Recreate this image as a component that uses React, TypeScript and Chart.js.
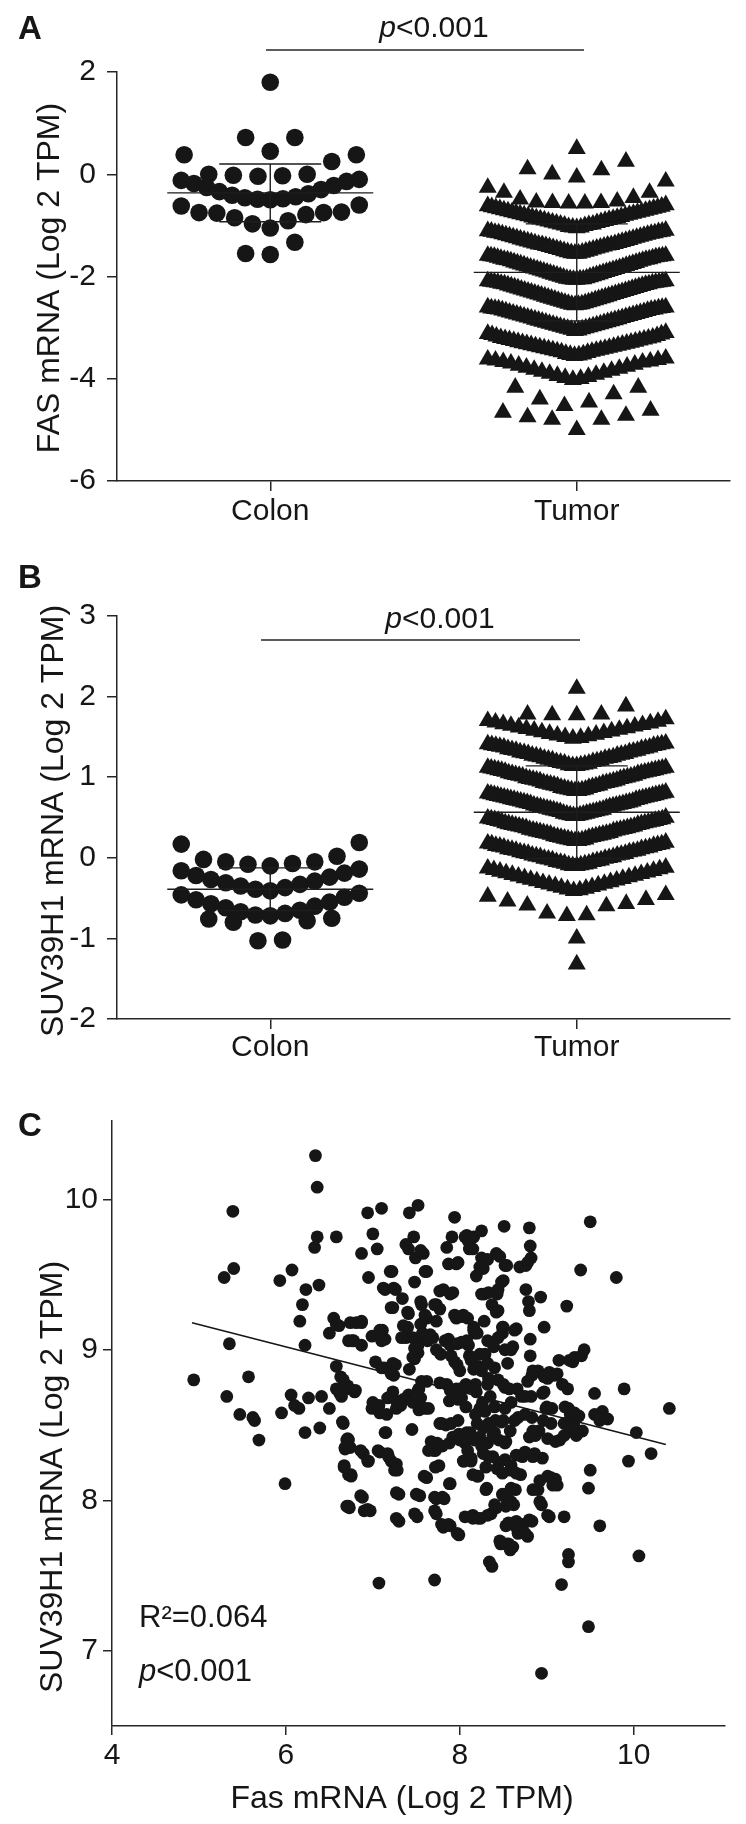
import React, { useEffect, useRef } from 'react';
import { Chart, registerables } from 'chart.js';

Chart.register(...registerables);

const FONT = '"Liberation Sans", Arial, Helvetica, sans-serif';
const INK = '#161616';
const AXIS = '#262626';

const groupNames = ['Colon', 'Tumor'];

// ---------- Panel A : FAS mRNA (Log 2 TPM) ----------
const fasColon = [
  1.8,
  0.45, 0.72, 0.72,
  -0.04, -0.03, -0.02, 0.0, 0.0, 0.25, 0.38, 0.38,
  -0.5, -0.49, -0.48, -0.46, -0.44, -0.41, -0.38, -0.34, -0.3, -0.26, -0.22, -0.18, -0.14, -0.12, -0.1,
  -1.05, -0.97, -0.91, -0.85, -0.79, -0.76, -0.75, -0.75, -0.74, -0.62, -0.6,
  -1.57, -1.55, -1.33,
];
const fasTumor = [
  0.5,
  -0.06, 0.0, 0.08, 0.1, 0.25,
  -0.14, -0.26, -0.36, -0.36, -0.46, -0.49, -0.53, -0.55, -0.56, -0.56, -0.57, -0.57,
  -1.05, -1.04, -1.04, -1.03, -1.01, -1.0, -0.99, -0.98, -0.98, -0.96, -0.95, -0.94, -0.93, -0.92, -0.91,
  -0.9, -0.89, -0.88, -0.87, -0.86, -0.85, -0.84, -0.83, -0.82, -0.81, -0.8, -0.79, -0.78, -0.77, -0.76,
  -0.75, -0.74, -0.73, -0.72, -0.71, -0.7, -0.69, -0.68, -0.67, -0.66, -0.65, -0.64, -0.63, -0.62, -0.6,
  -1.55, -1.55, -1.54, -1.53, -1.52, -1.51, -1.5, -1.49, -1.48, -1.47, -1.46, -1.45, -1.44, -1.43, -1.42,
  -1.41, -1.4, -1.39, -1.38, -1.38, -1.37, -1.36, -1.35, -1.34, -1.33, -1.32, -1.31, -1.3, -1.29, -1.28,
  -1.27, -1.26, -1.25, -1.24, -1.23, -1.22, -1.21, -1.2, -1.19, -1.18, -1.17, -1.16, -1.15, -1.15, -1.14,
  -1.13, -1.12, -1.12, -1.11, -1.1,
  -2.06, -2.06, -2.05, -2.05, -2.05, -2.04, -2.03, -2.02, -2.01, -2.0, -1.99, -1.98, -1.97, -1.96, -1.95,
  -1.94, -1.93, -1.92, -1.91, -1.9, -1.89, -1.88, -1.87, -1.86, -1.85, -1.84, -1.83, -1.82, -1.81, -1.8,
  -1.79, -1.78, -1.77, -1.76, -1.75, -1.74, -1.73, -1.72, -1.71, -1.7, -1.69, -1.68, -1.67, -1.67, -1.66,
  -1.65, -1.64, -1.63, -1.62, -1.61, -1.61, -1.6, -1.6, -1.59, -1.59,
  -2.56, -2.55, -2.55, -2.54, -2.53, -2.52, -2.51, -2.5, -2.49, -2.48, -2.47, -2.46, -2.45, -2.44, -2.43,
  -2.42, -2.41, -2.4, -2.39, -2.38, -2.37, -2.36, -2.35, -2.34, -2.33, -2.32, -2.31, -2.3, -2.29, -2.28,
  -2.27, -2.26, -2.25, -2.24, -2.23, -2.22, -2.21, -2.2, -2.19, -2.18, -2.17, -2.16, -2.15, -2.15, -2.14,
  -2.13, -2.12, -2.12, -2.11, -2.11, -2.1, -2.1, -2.09, -2.09,
  -3.06, -3.05, -3.04, -3.03, -3.02, -3.01, -3.0, -2.99, -2.98, -2.97, -2.96, -2.95, -2.94, -2.93, -2.92,
  -2.91, -2.9, -2.89, -2.88, -2.87, -2.86, -2.85, -2.84, -2.83, -2.82, -2.81, -2.8, -2.79, -2.78, -2.77,
  -2.76, -2.75, -2.74, -2.73, -2.72, -2.71, -2.7, -2.69, -2.68, -2.67, -2.66, -2.65, -2.64, -2.64, -2.63,
  -2.62, -2.62, -2.61, -2.6, -2.6,
  -3.55, -3.54, -3.53, -3.52, -3.51, -3.49, -3.48, -3.47, -3.46, -3.45, -3.44, -3.43, -3.42, -3.41, -3.4,
  -3.39, -3.38, -3.37, -3.36, -3.35, -3.34, -3.33, -3.32, -3.31, -3.3, -3.29, -3.28, -3.27, -3.26, -3.25,
  -3.24, -3.23, -3.22, -3.21, -3.2, -3.19, -3.17, -3.16, -3.14, -3.13, -3.12, -3.1,
  -4.02, -4.0, -3.98, -3.96, -3.94, -3.92, -3.9, -3.88, -3.86, -3.84, -3.82, -3.8, -3.78, -3.76, -3.74,
  -3.72, -3.7, -3.68, -3.67, -3.66, -3.64, -3.63, -3.62, -3.6,
  -4.17, -4.17, -4.3, -4.4, -4.46, -4.53,
  -4.62, -4.66, -4.72, -4.75, -4.8, -4.8, -5.0,
];
const fasMean = [-0.365, -1.92];
const fasSd = [0.565, 0.95];

// ---------- Panel B : SUV39H1 mRNA (Log 2 TPM) ----------
const suvColon = [
  -0.1, -0.08, -0.07, -0.05, -0.05, -0.02, 0.02, 0.17, 0.19,
  -0.41, -0.39, -0.37, -0.35, -0.33, -0.31, -0.29, -0.27, -0.24, -0.22, -0.19, -0.16, -0.14,
  -0.72, -0.71, -0.69, -0.67, -0.65, -0.62, -0.6, -0.57, -0.55, -0.52, -0.49, -0.46, -0.44,
  -1.03, -1.02, -0.8, -0.78, -0.76, -0.75,
];
const suvTumor = [
  2.1,
  1.77, 1.77, 1.78, 1.78, 1.88,
  1.48, 1.49, 1.5, 1.51, 1.52, 1.53, 1.54, 1.55, 1.56, 1.57, 1.58, 1.59, 1.6, 1.61, 1.62, 1.63, 1.64,
  1.65, 1.66, 1.67, 1.68, 1.69, 1.7, 1.72,
  1.14, 1.14, 1.15, 1.15, 1.16, 1.17, 1.17, 1.18, 1.19, 1.19, 1.2, 1.21, 1.21, 1.22, 1.23, 1.23, 1.24,
  1.25, 1.25, 1.26, 1.27, 1.27, 1.28, 1.29, 1.29, 1.3, 1.31, 1.31, 1.32, 1.33, 1.33, 1.34, 1.35, 1.35,
  1.36, 1.37, 1.37, 1.38, 1.39, 1.39, 1.4, 1.4, 1.41, 1.41, 1.42,
  0.83, 0.83, 0.84, 0.84, 0.85, 0.85, 0.86, 0.87, 0.87, 0.88, 0.89, 0.89, 0.9, 0.9, 0.91, 0.92, 0.92,
  0.93, 0.93, 0.94, 0.95, 0.95, 0.96, 0.96, 0.97, 0.98, 0.98, 0.99, 0.99, 1.0, 1.01, 1.01, 1.02, 1.02,
  1.03, 1.04, 1.04, 1.05, 1.05, 1.06, 1.07, 1.07, 1.08, 1.08, 1.09, 1.09, 1.1, 1.1, 1.11, 1.11, 1.12, 1.12,
  0.52, 0.52, 0.53, 0.53, 0.54, 0.54, 0.55, 0.55, 0.56, 0.57, 0.57, 0.58, 0.58, 0.59, 0.59, 0.6, 0.6,
  0.61, 0.62, 0.62, 0.63, 0.63, 0.64, 0.64, 0.65, 0.65, 0.66, 0.67, 0.67, 0.68, 0.68, 0.69, 0.69, 0.7,
  0.7, 0.71, 0.72, 0.72, 0.73, 0.73, 0.74, 0.74, 0.75, 0.75, 0.76, 0.76, 0.77, 0.77, 0.78, 0.78, 0.79,
  0.79, 0.8, 0.8, 0.81,
  0.21, 0.21, 0.22, 0.22, 0.23, 0.23, 0.24, 0.25, 0.25, 0.26, 0.26, 0.27, 0.27, 0.28, 0.29, 0.29, 0.3,
  0.3, 0.31, 0.31, 0.32, 0.33, 0.33, 0.34, 0.34, 0.35, 0.35, 0.36, 0.37, 0.37, 0.38, 0.38, 0.39, 0.39,
  0.4, 0.41, 0.41, 0.42, 0.42, 0.43, 0.43, 0.44, 0.45, 0.45, 0.46, 0.46, 0.47, 0.47, 0.48, 0.48, 0.49, 0.5,
  -0.1, -0.1, -0.09, -0.09, -0.08, -0.07, -0.07, -0.06, -0.05, -0.05, -0.04, -0.03, -0.03, -0.02, -0.01,
  -0.01, 0.0, 0.01, 0.01, 0.02, 0.03, 0.03, 0.04, 0.05, 0.05, 0.06, 0.07, 0.07, 0.08, 0.09, 0.09, 0.1,
  0.11, 0.11, 0.12, 0.13, 0.13, 0.14, 0.15, 0.15, 0.16, 0.17, 0.17, 0.18, 0.19,
  -0.41, -0.4, -0.39, -0.38, -0.37, -0.36, -0.35, -0.34, -0.33, -0.32, -0.31, -0.3, -0.29, -0.28, -0.27,
  -0.26, -0.25, -0.24, -0.23, -0.22, -0.21, -0.2, -0.19, -0.18, -0.17, -0.16, -0.15, -0.14, -0.13, -0.12,
  -0.46, -0.48, -0.52, -0.54, -0.57, -0.59, -0.6, -0.69, -0.71, -0.72,
  -1.0,
  -1.32,
];
const suvMean = [-0.39, 0.565];
const suvSd = [0.265, 0.575];

// ---------- Panel C : Fas vs SUV39H1 (x = Fas, y = SUV39H1) ----------
const fasSuvPairs = [
  [4.94, 8.8], [5.29, 9.48], [5.39, 9.92], [5.4, 9.54], [5.35, 9.04], [5.32, 8.69], [5.47, 8.57], [5.57, 8.82],
  [5.64, 8.53], [5.69, 8.4], [5.93, 9.46], [5.95, 8.58], [5.99, 8.11], [6.07, 9.53], [6.06, 8.7], [6.15, 8.61],
  [6.16, 9.19], [6.19, 9.3], [6.23, 9.4], [6.22, 9.03], [6.22, 8.45], [6.26, 8.68], [6.34, 10.29], [6.36, 10.08],
  [6.36, 9.75], [6.33, 9.68], [6.38, 9.43], [6.39, 8.48], [6.41, 8.69], [6.5, 8.61], [6.5, 9.11], [6.55, 9.21],
  [6.58, 9.75], [6.58, 8.89], [6.61, 9.16], [6.63, 8.82], [6.58, 8.74], [6.64, 8.69], [6.66, 8.51], [6.67, 8.23],
  [6.71, 8.76], [6.72, 8.4], [6.74, 8.35], [6.75, 8.17], [6.78, 9.06], [6.79, 8.72], [6.81, 9.18], [6.73, 7.95],
  [6.87, 9.64], [6.87, 9.18], [6.87, 9.03], [6.88, 8.02], [6.89, 8.31], [6.9, 7.93], [6.94, 9.91], [6.95, 9.48],
  [6.95, 8.26], [6.97, 7.93], [6.99, 9.09], [7.0, 9.77], [6.99, 8.61], [7.03, 8.92], [7.05, 9.67], [7.07, 8.63],
  [7.08, 8.58], [7.08, 8.32], [7.07, 7.45], [7.1, 9.94], [7.11, 9.13], [7.13, 8.88], [7.14, 9.4], [7.14, 9.07],
  [7.15, 8.45], [7.16, 8.57], [7.18, 8.29], [7.22, 9.52], [7.23, 9.28], [7.23, 8.72], [7.24, 8.83], [7.26, 9.4],
  [7.26, 8.9], [7.27, 8.61], [7.27, 8.24], [7.28, 8.2], [7.3, 8.04], [7.3, 7.86], [7.34, 9.34], [7.35, 8.67],
  [7.38, 9.08], [7.4, 9.15], [7.41, 8.7], [7.41, 9.24], [7.41, 9.67], [7.42, 9.91], [7.45, 8.47], [7.47, 9.75],
  [7.48, 9.45], [7.49, 9.61], [7.48, 8.94], [7.51, 7.89], [7.52, 9.96], [7.52, 9.03], [7.52, 8.98], [7.53, 8.74],
  [7.54, 8.03], [7.55, 9.08], [7.55, 8.68], [7.56, 9.3], [7.58, 9.64], [7.59, 8.16], [7.6, 8.61], [7.62, 9.52],
  [7.62, 9.21], [7.62, 8.79], [7.63, 9.06], [7.64, 8.61], [7.69, 9.08], [7.7, 8.33], [7.71, 7.47], [7.73, 7.91],
  [7.73, 9.3], [7.73, 8.01], [7.74, 8.38], [7.76, 8.23], [7.77, 9.27], [7.78, 8.97], [7.79, 8.51], [7.81, 9.4],
  [7.81, 7.82], [7.82, 8.01], [7.85, 9.68], [7.85, 8.77], [7.87, 9.57], [7.87, 9.07], [7.88, 8.38], [7.88, 8.11],
  [7.89, 7.83], [7.91, 9.75], [7.92, 9.38], [7.94, 9.88], [7.94, 8.92], [7.96, 8.74], [7.96, 9.21], [7.98, 9.58],
  [7.98, 8.53], [7.99, 8.44], [7.99, 7.77], [8.0, 8.86], [8.02, 8.68], [8.02, 9.05], [8.03, 9.22], [8.05, 8.26],
  [8.06, 8.38], [8.07, 8.77], [8.08, 9.76], [8.09, 9.21], [8.1, 9.72], [8.1, 9.03], [8.11, 8.96], [8.12, 8.45],
  [8.13, 8.26], [8.15, 9.67], [8.15, 7.88], [8.16, 9.75], [8.17, 9.11], [8.18, 8.77], [8.19, 9.49], [8.2, 8.16],
  [8.21, 8.89], [8.23, 8.42], [8.24, 7.88], [8.25, 9.79], [8.27, 9.54], [8.28, 9.37], [8.28, 9.19], [8.29, 8.97],
  [8.29, 8.59], [8.3, 8.07], [8.32, 9.6], [8.32, 8.77], [8.33, 8.51], [8.33, 8.29], [8.35, 8.69], [8.36, 7.91],
  [8.37, 7.56], [8.37, 9.3], [8.39, 9.02], [8.4, 8.88], [8.4, 8.45], [8.42, 7.95], [8.43, 8.21], [8.44, 9.4],
  [8.44, 9.26], [8.46, 9.62], [8.47, 7.71], [8.49, 9.11], [8.5, 8.77], [8.5, 9.46], [8.51, 9.82], [8.52, 8.61],
  [8.53, 8.39], [8.54, 9.56], [8.54, 8.04], [8.55, 8.91], [8.56, 7.71], [8.58, 8.2], [8.59, 8.65], [8.61, 7.69],
  [8.61, 9.02], [8.62, 7.97], [8.64, 8.07], [8.65, 7.82], [8.65, 9.14], [8.66, 8.74], [8.67, 8.55], [8.7, 8.17],
  [8.72, 8.29], [8.73, 7.84], [8.75, 8.69], [8.76, 9.4], [8.76, 9.56], [8.78, 7.76], [8.79, 9.32], [8.8, 9.81],
  [8.8, 9.26], [8.81, 9.69], [8.82, 9.61], [8.81, 9.07], [8.81, 8.96], [8.83, 8.83], [8.83, 8.55], [8.83, 7.86],
  [8.84, 8.29], [8.87, 8.43], [8.9, 8.07], [8.9, 8.86], [8.91, 8.46], [8.93, 9.35], [8.94, 7.97], [8.94, 6.85],
  [8.95, 8.28], [8.95, 8.71], [8.97, 9.15], [8.99, 8.61], [9.01, 8.81], [9.03, 7.89], [9.05, 8.15], [9.05, 8.51],
  [9.06, 8.61], [9.09, 8.83], [9.1, 8.14], [9.12, 8.1], [9.14, 8.93], [9.15, 8.4], [9.18, 8.77], [9.2, 8.43],
  [9.2, 7.89], [9.17, 7.44], [9.23, 9.29], [9.24, 8.74], [9.25, 8.61], [9.25, 7.64], [9.25, 7.59], [9.3, 8.92],
  [9.31, 8.5], [9.34, 8.43], [9.37, 8.56], [9.39, 9.53], [9.4, 8.96], [9.41, 8.46], [9.43, 9.0], [9.48, 8.08],
  [9.5, 8.2], [9.5, 9.85], [9.48, 7.16], [9.55, 8.71], [9.61, 7.83], [9.64, 8.59], [9.7, 8.54], [9.8, 9.48],
  [9.89, 8.74], [9.94, 8.26], [10.03, 8.45], [10.06, 7.63], [10.2, 8.31], [10.41, 8.61],
  [7.38, 9.7], [7.55, 9.66], [8.06, 9.75], [8.11, 9.67], [8.42, 9.64], [7.96, 9.57], [8.25, 9.61], [8.23, 9.55],
  [8.48, 9.45], [7.2, 9.52], [7.6, 9.52], [7.12, 9.41], [7.24, 9.41], [7.21, 9.28], [7.55, 9.32], [7.4, 9.25],
  [7.71, 9.3], [7.77, 9.39], [7.89, 9.37], [7.6, 9.23], [7.55, 9.17], [7.73, 9.19], [7.94, 9.23], [8.04, 9.23],
  [8.25, 9.37], [8.33, 9.38], [8.43, 9.37], [8.42, 9.25], [8.16, 9.15], [8.2, 9.11], [8.49, 9.15], [6.87, 9.19],
  [7.08, 9.13], [7.1, 9.06], [6.76, 9.06], [7.35, 9.16], [7.46, 9.08], [7.33, 9.08], [7.57, 9.11], [7.66, 9.1],
  [7.83, 9.06], [7.89, 9.03], [7.97, 9.04], [8.08, 9.06], [8.16, 9.13], [8.32, 9.06], [8.44, 9.08], [7.73, 9.0],
  [7.48, 9.01], [7.46, 8.95], [7.42, 8.87], [7.9, 8.96], [7.97, 8.9], [8.13, 8.93], [8.16, 8.87], [8.23, 8.97],
  [8.25, 8.86], [8.32, 8.91], [7.1, 8.88], [7.23, 8.91], [7.21, 8.84], [7.56, 8.79], [7.52, 8.73], [7.77, 8.78],
  [7.89, 8.73], [8.0, 8.74], [8.09, 8.75], [8.19, 8.72], [8.26, 8.65], [8.23, 8.61], [8.33, 8.81], [8.44, 8.8],
  [8.52, 8.75], [6.66, 8.8], [6.73, 8.74], [6.8, 8.73], [7.0, 8.65], [7.06, 8.62], [7.17, 8.68], [7.27, 8.66],
  [7.32, 8.63], [7.46, 8.65], [7.53, 8.6], [7.88, 8.66], [7.98, 8.67], [8.07, 8.62], [8.18, 8.57], [8.28, 8.6],
  [8.4, 8.62],
  [6.65, 8.52], [7.14, 8.45], [7.77, 8.51], [7.84, 8.5], [7.9, 8.51], [6.71, 8.41], [6.68, 8.35], [6.86, 8.33],
  [6.94, 8.26], [7.06, 8.33], [7.17, 8.31], [7.21, 8.26], [7.25, 8.2], [7.67, 8.39], [7.72, 8.33], [7.8, 8.36],
  [7.64, 8.33], [7.72, 8.22], [7.89, 8.11], [7.62, 8.15], [6.67, 8.22], [6.75, 8.16], [6.86, 8.03], [6.72, 7.96],
  [6.94, 7.94], [7.27, 8.05], [7.5, 8.04], [7.71, 8.02], [7.8, 8.02], [7.71, 7.93], [7.27, 7.88], [7.48, 7.91],
  [7.79, 7.84], [7.87, 7.84], [7.97, 7.78], [8.08, 8.27], [8.13, 8.28], [8.04, 8.26], [8.15, 8.17], [8.21, 8.16],
  [8.31, 8.08], [8.06, 7.89], [8.15, 7.9], [8.21, 7.88], [8.32, 7.9], [8.4, 7.97], [8.49, 8.04], [8.53, 7.96],
  [8.46, 7.73], [8.53, 7.71], [8.34, 7.59], [8.53, 7.83], [7.92, 8.42], [8.0, 8.4], [8.08, 8.45], [8.17, 8.4],
  [8.25, 8.36], [8.32, 8.38], [8.38, 8.43], [8.45, 8.4], [8.2, 8.51], [8.27, 8.48], [8.34, 8.5], [8.41, 8.53],
  [8.48, 8.52], [8.09, 8.33], [8.27, 8.31], [8.38, 8.29], [8.45, 8.25], [8.3, 8.22], [8.52, 8.27], [8.49, 8.18],
  [8.5, 8.53], [8.58, 8.46], [8.52, 8.38], [8.63, 8.53], [8.75, 8.57], [8.84, 8.46], [8.8, 8.42], [8.96, 8.53],
  [9.01, 8.41], [9.1, 8.39], [9.2, 8.51], [9.27, 8.57], [9.27, 8.46], [9.32, 8.48], [9.55, 8.57], [9.61, 8.53],
  [8.65, 8.3], [8.75, 8.32], [8.86, 8.31], [8.59, 8.23], [8.65, 8.18], [8.92, 8.13], [9.01, 8.16], [9.07, 8.1],
  [8.84, 8.07], [8.59, 8.08], [8.5, 8.03], [8.59, 7.99], [8.92, 7.99], [8.8, 7.87], [9.01, 7.9], [8.56, 7.85],
  [8.65, 7.86], [8.67, 7.78], [8.75, 7.78], [8.58, 7.67],
  [8.52, 9.56], [8.69, 9.55], [8.78, 9.58], [8.5, 9.15], [8.63, 9.13], [8.52, 9.0], [8.59, 9.0], [9.26, 8.93],
  [9.32, 8.95], [8.84, 8.86], [8.97, 8.82], [9.03, 8.85], [9.12, 8.84], [8.57, 8.74], [8.71, 8.69], [8.82, 8.69],
  [8.97, 8.72], [8.78, 8.79], [9.21, 8.62], [9.32, 8.58], [9.0, 8.62],
  [6.58, 9.17], [6.74, 9.18], [6.72, 9.06], [6.68, 8.75], [6.62, 8.71], [6.1, 8.63], [5.62, 8.55], [6.7, 8.4],
  [6.68, 8.34], [6.72, 8.17], [6.7, 7.96],
];
const fitLine = [[4.92, 9.18], [10.37, 8.37]];
const corrXTicks = [4, 6, 8, 10];
const corrYTicks = [7, 8, 9, 10];

// ---------- layout constants ----------
const W = 746;
const AB_LEFT = 117;
const AB_RIGHT = 730;
const AB_PX_PER_UNIT = (AB_RIGHT - AB_LEFT) / 2;
const SWARM_STEP_PX = 24.6;
const SWARM_HALF_PX = 89;

function swarm(values: number[], centre: number, binSize: number, binOrigin: number) {
  const bins = new Map<number, number[]>();
  values.forEach((v) => {
    const k = Math.floor((v - binOrigin) / binSize + 1e-9);
    if (!bins.has(k)) bins.set(k, []);
    bins.get(k)!.push(v);
  });
  const out: { x: number; y: number }[] = [];
  bins.forEach((list) => {
    list.sort((a, b) => a - b);
    const n = list.length;
    const step = n > 1 ? Math.min(SWARM_STEP_PX, (2 * SWARM_HALF_PX) / (n - 1)) : 0;
    list.forEach((v, i) => {
      let slot: number;
      if (n % 2 === 1) slot = i === 0 ? 0 : Math.ceil(i / 2) * (i % 2 === 1 ? -1 : 1);
      else slot = (Math.floor(i / 2) + 0.5) * (i % 2 === 0 ? -1 : 1);
      out.push({ x: centre + (slot * step) / AB_PX_PER_UNIT, y: v });
    });
  });
  return out;
}

function font(size: number, style = '', weight = '') {
  return `${style} ${weight} ${size}px ${FONT}`.trim();
}

function drawPText(ctx: CanvasRenderingContext2D, x: number, y: number, size: number, align: 'center' | 'left') {
  ctx.textBaseline = 'alphabetic';
  ctx.textAlign = 'left';
  ctx.font = font(size, 'italic');
  const wp = ctx.measureText('p').width;
  ctx.font = font(size);
  const wr = ctx.measureText('<0.001').width;
  const x0 = align === 'center' ? x - (wp + wr) / 2 : x;
  ctx.font = font(size, 'italic');
  ctx.fillText('p', x0, y);
  ctx.font = font(size);
  ctx.fillText('<0.001', x0 + wp, y);
}

function drawRotated(ctx: CanvasRenderingContext2D, text: string, cx: number, cy: number, size: number) {
  ctx.save();
  ctx.translate(cx, cy);
  ctx.rotate(-Math.PI / 2);
  ctx.font = font(size);
  ctx.textAlign = 'center';
  ctx.textBaseline = 'middle';
  ctx.fillText(text, 0, 0);
  ctx.restore();
}

function annotations(draw: (ctx: CanvasRenderingContext2D, chart: any) => void) {
  return {
    id: 'panelText',
    afterDraw(chart: any) {
      const ctx = chart.ctx;
      ctx.save();
      ctx.fillStyle = INK;
      ctx.strokeStyle = AXIS;
      draw(ctx, chart);
      ctx.restore();
    },
  };
}

function errorBars(means: number[], sds: number[]) {
  return {
    id: 'meanSd',
    afterDatasetsDraw(chart: any) {
      const { ctx, scales } = chart;
      ctx.save();
      ctx.strokeStyle = '#1e1e1e';
      ctx.lineWidth = 1.4;
      means.forEach((m, i) => {
        const cx = scales.x.getPixelForValue(0.5 + i);
        const ym = scales.y.getPixelForValue(m);
        const yt = scales.y.getPixelForValue(m + sds[i]);
        const yb = scales.y.getPixelForValue(m - sds[i]);
        ctx.beginPath();
        ctx.moveTo(cx - 103, ym); ctx.lineTo(cx + 103, ym);
        ctx.moveTo(cx, yt); ctx.lineTo(cx, yb);
        ctx.moveTo(cx - 51, yt); ctx.lineTo(cx + 51, yt);
        ctx.moveTo(cx - 51, yb); ctx.lineTo(cx + 51, yb);
        ctx.stroke();
      });
      ctx.restore();
    },
  };
}

const axisCommon = (tickLength: number) => ({
  grid: { drawOnChartArea: false, drawTicks: true, tickLength, color: AXIS, lineWidth: 1.5 },
  border: { display: true, color: AXIS, width: 1.5 },
});

function groupConfig(opts: {
  colon: number[]; tumor: number[]; binSize: number; binOrigin: number;
  yMin: number; yMax: number; step: number; top: number; bottomPad: number; labelPad: number;
  means: number[]; sds: number[]; draw: (ctx: CanvasRenderingContext2D, chart: any) => void;
}) {
  return {
    type: 'scatter',
    data: {
      datasets: [
        {
          data: swarm(opts.colon, 0.5, opts.binSize, opts.binOrigin),
          pointStyle: 'circle', pointRadius: 8.8, backgroundColor: INK, borderWidth: 0, clip: false,
        },
        {
          data: swarm(opts.tumor, 1.5, opts.binSize, opts.binOrigin),
          pointStyle: 'triangle', pointRadius: 10.4, backgroundColor: INK, borderWidth: 0, clip: false,
        },
      ],
    },
    options: {
      animation: false, responsive: false, devicePixelRatio: 1, events: [],
      layout: { padding: { left: 0, right: W - AB_RIGHT, top: opts.top, bottom: opts.bottomPad } },
      plugins: { legend: { display: false }, tooltip: { enabled: false }, title: { display: false } },
      scales: {
        x: {
          type: 'linear', min: 0, max: 2,
          afterBuildTicks: (s: any) => { s.ticks = [{ value: 0.5 }, { value: 1.5 }]; },
          afterFit: (s: any) => { s.height = 60; },
          ticks: {
            callback: (_v: any, i: number) => groupNames[i],
            font: { family: FONT, size: 30, lineHeight: 1.2 }, color: INK, padding: opts.labelPad, maxRotation: 0,
          },
          ...axisCommon(10),
        },
        y: {
          min: opts.yMin, max: opts.yMax,
          afterFit: (s: any) => { s.width = AB_LEFT; },
          ticks: { stepSize: opts.step, font: { family: FONT, size: 30 }, color: INK, padding: 11 },
          ...axisCommon(10),
        },
      },
    },
    plugins: [errorBars(opts.means, opts.sds), annotations(opts.draw)],
  };
}

export default function App() {
  const refA = useRef<HTMLCanvasElement>(null);
  const refB = useRef<HTMLCanvasElement>(null);
  const refC = useRef<HTMLCanvasElement>(null);

  useEffect(() => {
    document.body.style.margin = '0';
    const charts: Chart[] = [];

    const cfgA = groupConfig({
      colon: fasColon, tumor: fasTumor, binSize: 0.5, binOrigin: -0.08,
      yMin: -6, yMax: 2, step: 2, top: 72, bottomPad: 555 - 481 - 60, labelPad: 3,
      means: fasMean, sds: fasSd,
      draw: (ctx) => {
        ctx.font = font(33, '', 'bold');
        ctx.textAlign = 'left';
        ctx.textBaseline = 'alphabetic';
        ctx.fillText('A', 18, 39);
        drawPText(ctx, 434, 37, 30, 'center');
        ctx.lineWidth = 1.5;
        ctx.beginPath(); ctx.moveTo(266, 50); ctx.lineTo(584, 50); ctx.stroke();
        drawRotated(ctx, 'FAS mRNA (Log 2 TPM)', 50, 278, 32);
      },
    });
    const cfgB = groupConfig({
      colon: suvColon, tumor: suvTumor, binSize: 0.31, binOrigin: 0.2,
      yMin: -2, yMax: 3, step: 1, top: 61, bottomPad: 530 - 464 - 60, labelPad: 1,
      means: suvMean, sds: suvSd,
      draw: (ctx) => {
        ctx.font = font(33, '', 'bold');
        ctx.textAlign = 'left';
        ctx.textBaseline = 'alphabetic';
        ctx.fillText('B', 18, 33);
        drawPText(ctx, 440, 73, 30, 'center');
        ctx.lineWidth = 1.5;
        ctx.beginPath(); ctx.moveTo(261, 85); ctx.lineTo(580, 85); ctx.stroke();
        drawRotated(ctx, 'SUV39H1 mRNA (Log 2 TPM)', 54, 266, 32);
      },
    });

    const cfgC = {
      type: 'scatter',
      data: {
        datasets: [
          {
            data: fasSuvPairs.map(([x, y]) => ({ x, y })),
            pointStyle: 'circle', pointRadius: 6.4, backgroundColor: INK, borderWidth: 0, order: 1, clip: false,
          },
          {
            type: 'line',
            data: fitLine.map(([x, y]) => ({ x, y })),
            borderColor: INK, borderWidth: 1.6, pointRadius: 0, fill: false, order: 2,
          },
        ],
      },
      options: {
        animation: false, responsive: false, devicePixelRatio: 1, events: [],
        layout: { padding: { left: 0, right: W - 725, top: 36, bottom: 739 - 641 - 90 } },
        plugins: { legend: { display: false }, tooltip: { enabled: false } },
        scales: {
          x: {
            type: 'linear', min: 4, max: 11.05,
            afterBuildTicks: (s: any) => { s.ticks = corrXTicks.map((value) => ({ value })); },
            afterFit: (s: any) => { s.height = 90; },
            ticks: { font: { family: FONT, size: 30, lineHeight: 1.2 }, color: INK, padding: 3, maxRotation: 0 },
            ...axisCommon(9),
          },
          y: {
            type: 'linear', min: 6.5, max: 10.52,
            afterBuildTicks: (s: any) => { s.ticks = corrYTicks.map((value) => ({ value })); },
            afterFit: (s: any) => { s.width = 112; },
            ticks: { font: { family: FONT, size: 30 }, color: INK, padding: 5 },
            ...axisCommon(9),
          },
        },
      },
      plugins: [
        annotations((ctx) => {
          ctx.font = font(33, '', 'bold');
          ctx.textAlign = 'left';
          ctx.textBaseline = 'alphabetic';
          ctx.fillText('C', 18, 51);
          drawRotated(ctx, 'SUV39H1 mRNA (Log 2 TPM)', 53, 392, 32);
          ctx.font = font(32);
          ctx.textAlign = 'center';
          ctx.textBaseline = 'middle';
          ctx.fillText('Fas mRNA (Log 2 TPM)', 402, 714);
          ctx.textAlign = 'left';
          ctx.textBaseline = 'alphabetic';
          ctx.font = font(31);
          ctx.fillText('R²=0.064', 139, 542);
          drawPText(ctx, 139, 596, 31, 'left');
        }),
      ],
    };

    charts.push(new Chart(refA.current as any, cfgA as any));
    charts.push(new Chart(refB.current as any, cfgB as any));
    charts.push(new Chart(refC.current as any, cfgC as any));
    return () => charts.forEach((c) => c.destroy());
  }, []);

  const cs = (top: number, h: number): React.CSSProperties => ({
    position: 'absolute', left: 0, top, width: W, height: h, display: 'block',
  });

  return (
    <div style={{ position: 'absolute', left: 0, top: 0, width: W, height: 1824, background: '#fff' }}>
      <canvas ref={refA} width={W} height={555} style={cs(0, 555)} />
      <canvas ref={refB} width={W} height={530} style={cs(555, 530)} />
      <canvas ref={refC} width={W} height={739} style={cs(1085, 739)} />
    </div>
  );
}
